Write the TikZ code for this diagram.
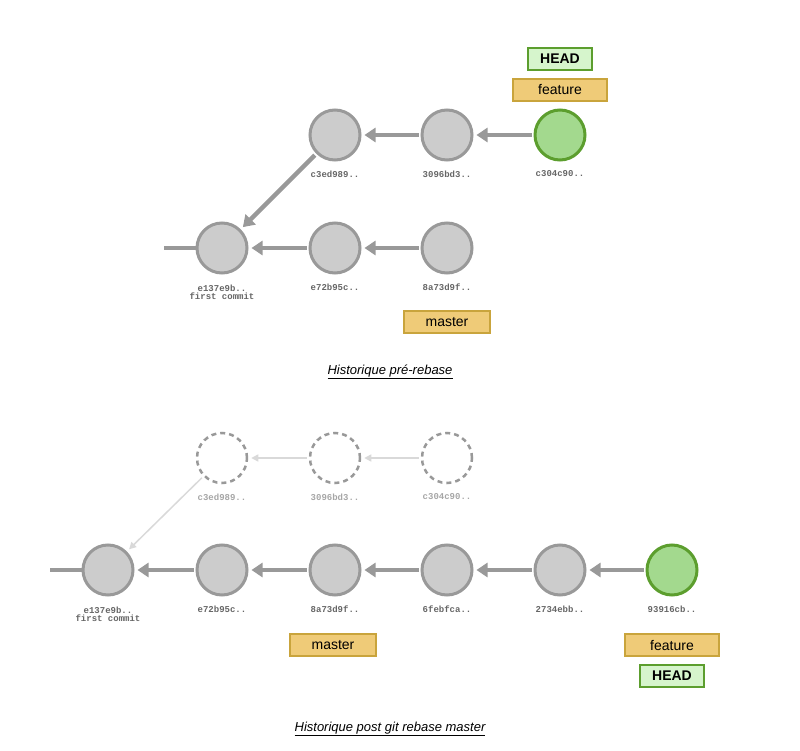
\documentclass[tikz,border=0pt]{standalone}
\usepackage{fontspec}
\setmainfont{Liberation Sans}
\newfontfamily\monof{Liberation Mono}
\usetikzlibrary{arrows.meta}
\definecolor{cfill}{HTML}{CCCCCC}
\definecolor{cdraw}{HTML}{999999}
\definecolor{gfill}{HTML}{A3D98E}
\definecolor{gdraw}{HTML}{5C9E2E}
\definecolor{bfill}{HTML}{EFCB78}
\definecolor{bdraw}{HTML}{C9A43C}
\definecolor{hfill}{HTML}{D6F5CC}
\tikzset{
 commit/.style={circle,minimum size=50pt,inner sep=0pt,fill=cfill,draw=cdraw,line width=3pt},
 cur/.style={commit,fill=gfill,draw=gdraw},
 ghost/.style={circle,minimum size=50pt,inner sep=0pt,draw=cdraw,line width=2.5pt,dash pattern=on 5pt off 4pt},
 hash/.style={font=\monof\bfseries\fontsize{9}{10}\selectfont,text=black!60,align=center},
 branch/.style={fill=bfill,draw=bdraw,line width=1.5pt,minimum width=94pt,minimum height=22pt,inner sep=1pt,font=\fontsize{14}{16}\selectfont},
 headb/.style={fill=hfill,draw=gdraw,line width=1.5pt,minimum width=64pt,minimum height=22pt,inner sep=1pt,font=\bfseries\fontsize{14}{16}\selectfont},
 par/.style={draw=cdraw,line width=4.5pt,-{Triangle[length=11pt,width=14pt]},shorten >=3pt,shorten <=2pt},
 gpar/.style={draw=black!15,line width=1.5pt,-{Triangle[length=7pt,width=7pt]},shorten >=3pt,shorten <=2pt},
 lead/.style={draw=cdraw,line width=4pt},
 captxt/.style={font=\itshape\fontsize{13}{15}\selectfont}
}
\begin{document}
\begin{tikzpicture}[x=1pt,y=-1pt]
\useasboundingbox (0,0) rectangle (800,751);
% top
\node[commit] (a1) at (222,248) {};
\node[commit] (a2) at (335,248) {};
\node[commit] (a3) at (447,248) {};
\node[commit] (b1) at (335,135) {};
\node[commit] (b2) at (447,135) {};
\node[cur] (b3) at (560,135) {};
\node[hash] (la1) at (222,292) {e137e9b..\\[-2pt]first commit};
\node[hash] (la2) at (335,287) {e72b95c..};
\node[hash] (la3) at (447,287) {8a73d9f..};
\node[hash] (lb1) at (335,174) {c3ed989..};
\node[hash] (lb2) at (447,174) {3096bd3..};
\node[hash] (lb3) at (560,174) {c304c90..};
\node[branch,minimum width=86pt] (m1) at (447,322) {master};
\node[branch] (f1) at (560,90) {feature};
\node[headb] (h1) at (560,59) {HEAD};
\coordinate (t1) at (164,248);
\draw[lead] (t1) -- (a1.west);
\draw[par] (a3) -- (a2);
\draw[par] (a2) -- (a1);
\draw[par] (b3) -- (b2);
\draw[par] (b2) -- (b1);
\draw[par] (b1) -- (a1);
\node[captxt] (c1) at (390,372) {\underline{Historique pré-rebase}};
% bottom
\node[ghost] (g1) at (222,458) {};
\node[ghost] (g2) at (335,458) {};
\node[ghost] (g3) at (447,458) {};
\node[hash,text=black!35] (lg1) at (222,497) {c3ed989..};
\node[hash,text=black!35] (lg2) at (335,497) {3096bd3..};
\node[hash,text=black!35] (lg3) at (447,497) {c304c90..};
\node[commit] (d1) at (108,570) {};
\node[commit] (d2) at (222,570) {};
\node[commit] (d3) at (335,570) {};
\node[commit] (d4) at (447,570) {};
\node[commit] (d5) at (560,570) {};
\node[cur] (d6) at (672,570) {};
\node[hash] (ld1) at (108,614) {e137e9b..\\[-2pt]first commit};
\node[hash] (ld2) at (222,609) {e72b95c..};
\node[hash] (ld3) at (335,609) {8a73d9f..};
\node[hash] (ld4) at (447,609) {6febfca..};
\node[hash] (ld5) at (560,609) {2734ebb..};
\node[hash] (ld6) at (672,609) {93916cb..};
\coordinate (t2) at (50,570);
\draw[lead] (t2) -- (d1.west);
\draw[gpar] (g3) -- (g2);
\draw[gpar] (g2) -- (g1);
\draw[gpar] (g1) -- (d1);
\draw[par] (d6) -- (d5);
\draw[par] (d5) -- (d4);
\draw[par] (d4) -- (d3);
\draw[par] (d3) -- (d2);
\draw[par] (d2) -- (d1);
\node[branch,minimum width=86pt] (m2) at (333,645) {master};
\node[branch] (f2) at (672,645) {feature};
\node[headb] (h2) at (672,676) {HEAD};
\node[captxt] (c2) at (390,729) {\underline{Historique post git rebase master}};
\end{tikzpicture}
\end{document}
